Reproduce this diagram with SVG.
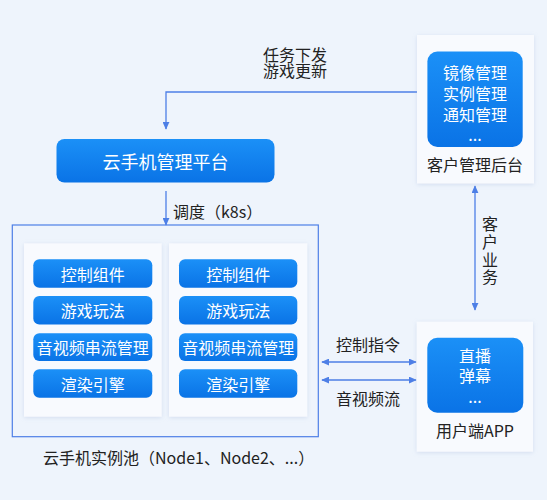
<svg xmlns="http://www.w3.org/2000/svg" width="547" height="500" viewBox="0 0 547 500">
<defs>
<linearGradient id="bg" x1="0" y1="0" x2="0" y2="1">
<stop offset="0" stop-color="#1b90f7"/>
<stop offset="1" stop-color="#0a73e6"/>
</linearGradient>
<filter id="sh" x="-10%" y="-10%" width="120%" height="120%">
<feDropShadow dx="0" dy="1" stdDeviation="2" flood-color="#9fb4d8" flood-opacity="0.35"/>
</filter>
<marker id="ah" viewBox="0 0 10 10" refX="9" refY="5" markerWidth="8" markerHeight="7" markerUnits="userSpaceOnUse" orient="auto-start-reverse" preserveAspectRatio="none">
<path d="M0,0 L10,5 L0,10 Z" fill="#4d7fe6"/>
</marker>
<style>
text{font-family:"Noto Sans CJK SC","Noto Sans",sans-serif;}
.w{fill:#ffffff;font-size:16px;text-anchor:middle;dominant-baseline:central;}
.d{fill:#222222;font-size:16px;dominant-baseline:central;}
.c{text-anchor:middle;}
.panel{fill:#f8fafe;filter:url(#sh);}
.btn{fill:url(#bg);}
.ln{stroke:#4d7fe6;stroke-width:1.3;fill:none;}
</style>
</defs>
<rect width="547" height="500" fill="#eef4fc"/>

<g id="connectors">
<path class="ln" d="M417,92 H166 V129" marker-end="url(#ah)"/>
<path class="ln" d="M166,191 V225" marker-end="url(#ah)"/>
<path class="ln" d="M475,186 V310" marker-start="url(#ah)" marker-end="url(#ah)"/>
<path class="ln" d="M322,362 H416" marker-start="url(#ah)" marker-end="url(#ah)"/>
<path class="ln" d="M322,380 H416" marker-start="url(#ah)" marker-end="url(#ah)"/>
<text class="d c"><tspan x="295" y="53.5">任务下发</tspan><tspan x="295" y="70">游戏更新</tspan></text>
<text class="d" x="173" y="211">调度（k8s）</text>
<text class="d c"><tspan x="490" y="223">客</tspan><tspan x="490" y="241">户</tspan><tspan x="490" y="259">业</tspan><tspan x="490" y="276">务</tspan></text>
<text class="d c" x="368" y="344">控制指令</text>
<text class="d c" x="368" y="398">音视频流</text>
</g>

<g id="platform">
<rect x="56.5" y="139" width="218" height="43.5" rx="8" class="btn"/>
<text class="w" x="165.5" y="161" style="font-size:18px">云手机管理平台</text>
</g>

<g id="customer-admin">
<rect x="417" y="35" width="117" height="148.5" class="panel"/>
<rect x="427.4" y="51.6" width="95.3" height="95.4" rx="10" class="btn"/>
<text class="w"><tspan x="475" y="72">镜像管理</tspan><tspan x="475" y="93">实例管理</tspan><tspan x="475" y="114">通知管理</tspan><tspan x="475" y="134">...</tspan></text>
<text class="d c" x="475" y="164">客户管理后台</text>
</g>

<g id="user-app">
<rect x="416.7" y="321.7" width="116.3" height="130" class="panel"/>
<rect x="427.3" y="337.7" width="96" height="75" rx="10" class="btn"/>
<text class="w"><tspan x="475" y="355">直播</tspan><tspan x="475" y="375">弹幕</tspan><tspan x="475" y="396">...</tspan></text>
<text class="d c" x="475" y="430">用户端APP</text>
</g>

<g id="pool">
<rect x="12.3" y="225" width="306" height="211.7" fill="none" stroke="#4d7fe6" stroke-width="1.2"/>
<text class="d" x="43" y="457">云手机实例池（Node1、Node2、...）</text>
</g>

<g id="node1">
<rect x="24" y="243.3" width="137.7" height="173.4" class="panel"/>
<rect x="33.3" y="259.3" width="119" height="28.4" rx="6" class="btn"/>
<text class="w" x="92.8" y="273.5">控制组件</text>
<rect x="33.3" y="296" width="119" height="28.4" rx="6" class="btn"/>
<text class="w" x="92.8" y="310.2">游戏玩法</text>
<rect x="33.3" y="333.3" width="119" height="27.7" rx="6" class="btn"/>
<text class="w" x="92.8" y="347.2">音视频串流管理</text>
<rect x="33.3" y="369.3" width="119" height="28.4" rx="6" class="btn"/>
<text class="w" x="92.8" y="383.5">渲染引擎</text>
</g>

<g id="node2">
<rect x="169" y="243.3" width="138.3" height="173.4" class="panel"/>
<rect x="179" y="259.3" width="118.3" height="28.4" rx="6" class="btn"/>
<text class="w" x="238.2" y="273.5">控制组件</text>
<rect x="179" y="296" width="118.3" height="28.4" rx="6" class="btn"/>
<text class="w" x="238.2" y="310.2">游戏玩法</text>
<rect x="179" y="333.3" width="118.3" height="27.7" rx="6" class="btn"/>
<text class="w" x="238.2" y="347.2">音视频串流管理</text>
<rect x="179" y="369.3" width="118.3" height="28.4" rx="6" class="btn"/>
<text class="w" x="238.2" y="383.5">渲染引擎</text>
</g>
</svg>
